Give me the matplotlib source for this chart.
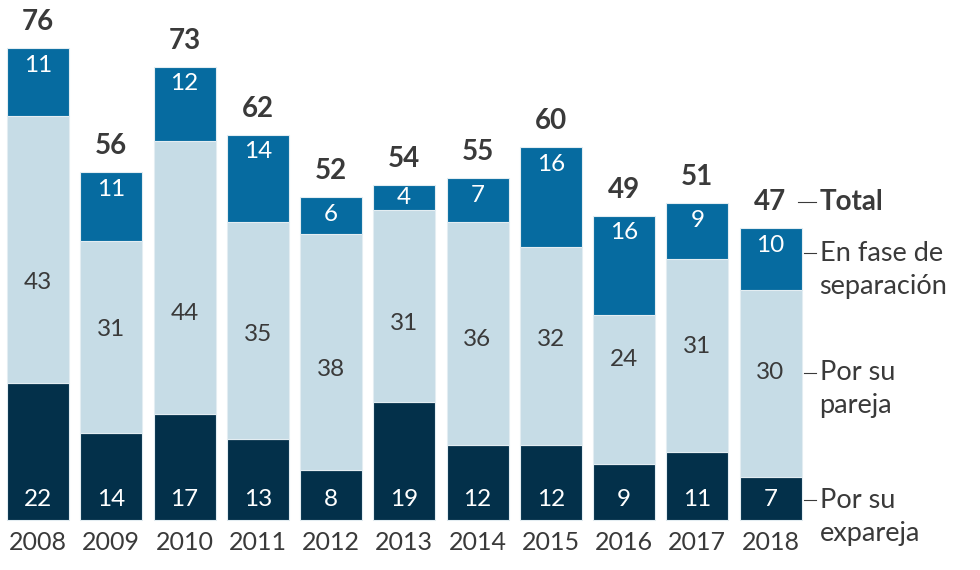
import matplotlib
matplotlib.use("Agg")
import matplotlib.pyplot as plt

years = ["2008", "2009", "2010", "2011", "2012", "2013", "2014", "2015", "2016", "2017", "2018"]
expareja = [22, 14, 17, 13, 8, 19, 12, 12, 9, 11, 7]
pareja = [43, 31, 44, 35, 38, 31, 36, 32, 24, 31, 30]
separacion = [11, 11, 12, 14, 6, 4, 7, 16, 16, 9, 10]
totals = [76, 56, 73, 62, 52, 54, 55, 60, 49, 51, 47]
# heights (data units) at which the middle-segment labels sit in the reference
mid_label_pos = [38.3, 30.6, 33.3, 29.8, 24.3, 31.7, 29.1, 29.1, 25.9, 27.9, 23.7]

legend_labels = ["Total", "En fase de\nseparación", "Por su\npareja", "Por su\nexpareja"]

c_dark = "#03304a"
c_light = "#c6dce6"
c_mid = "#066ba0"
c_text = "#3a3a3a"

plt.rcParams['font.family'] = ['Lato', 'DejaVu Sans']

fig = plt.figure(figsize=(9.8, 5.7), dpi=100)
ax = fig.add_axes([0, 0, 1, 1])
ppu = 6.21  # pixels per unit
spacing = 73.25
x0 = 38
ax.set_xlim((0 - x0) / spacing, (980 - x0) / spacing)
ax.set_ylim(-50 / ppu, 520 / ppu)
ax.axis('off')

xs = list(range(len(years)))
w = 62 / spacing
ec = "#e3edf2"
ax.bar(xs, expareja, width=w, color=c_dark, edgecolor=ec, linewidth=0.8)
ax.bar(xs, pareja, width=w, bottom=expareja, color=c_light, edgecolor=ec, linewidth=0.8)
bot2 = [a + b for a, b in zip(expareja, pareja)]
ax.bar(xs, separacion, width=w, bottom=bot2, color=c_mid, edgecolor=ec, linewidth=0.8)

fs = 17.5
px = 1 / ppu
for i in xs:
    top = bot2[i] + separacion[i]
    ax.text(i, top + 26 * px, str(totals[i]), ha='center', va='center',
            fontsize=20, fontweight='bold', color=c_text)
    off_t = min(separacion[i] / 2, 17 * px)
    ax.text(i, top - off_t, str(separacion[i]), ha='center', va='center',
            fontsize=fs, color='white')
    ax.text(i, mid_label_pos[i], str(pareja[i]), ha='center', va='center',
            fontsize=fs, color=c_text)
    off_b = min(expareja[i] / 2, 20 * px)
    ax.text(i, off_b, str(expareja[i]), ha='center', va='center',
            fontsize=fs, color='white')
    ax.text(i, -22 * px, years[i], ha='center', va='center',
            fontsize=18, color=c_text)

# legend annotations next to last bar
last = xs[-1]
right = last + w / 2
lx = right + 18 / spacing
top_last = bot2[-1] + separacion[-1]
y_total = top_last + 26 * px
y_sep = top_last - 25 * px
y_par = mid_label_pos[-1]
y_exp = 20 * px
ys = [y_total, y_sep, y_par, y_exp]
for k, (lab, yy) in enumerate(zip(legend_labels, ys)):
    start = right + (-4 if k == 0 else 2) / spacing
    ax.plot([start, lx - 4 / spacing], [yy, yy], color=c_text, lw=0.8)
    lines = lab.split("\n")
    for j, ln in enumerate(lines):
        ax.text(lx, yy - j * 33 * px, ln, ha='left', va='center',
                fontsize=20 if k == 0 else 19.5,
                fontweight='bold' if k == 0 else 'normal', color=c_text)

fig.savefig("out.png", dpi=100)
